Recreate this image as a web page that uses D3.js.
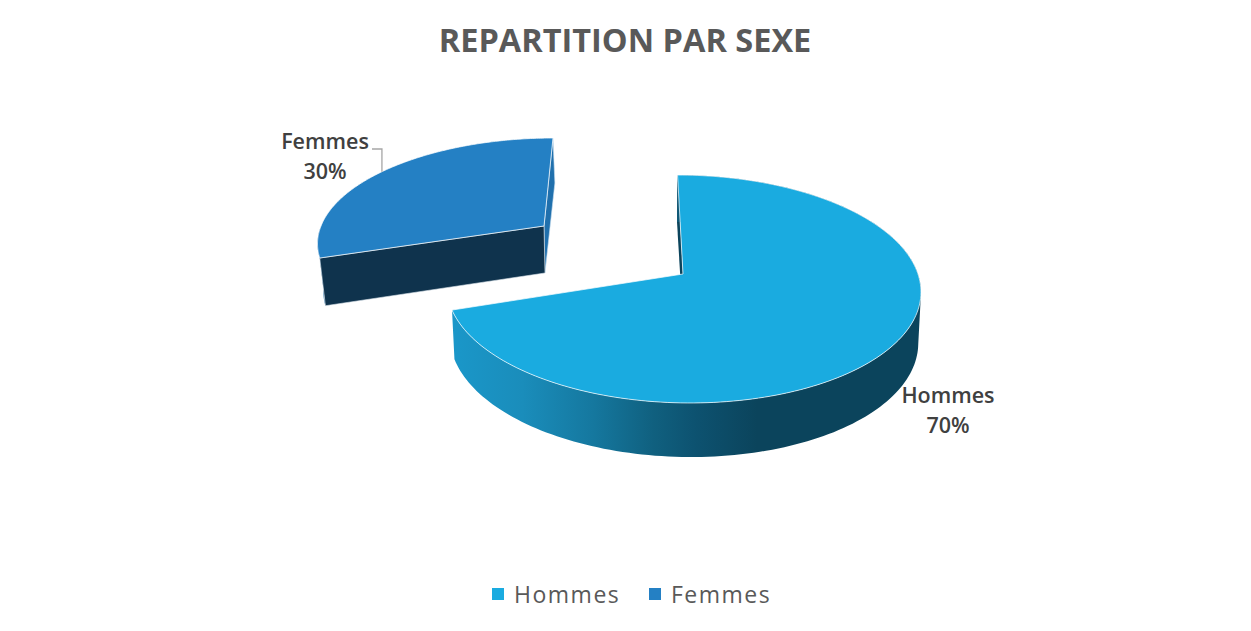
<!DOCTYPE html>
<html><head><meta charset="utf-8">
<script src="https://cdn.jsdelivr.net/npm/d3@7"></script>
<style>html,body{margin:0;padding:0;background:#fff;overflow:hidden}svg{display:block}text{font-family:"Open Sans","Noto Sans",sans-serif}</style>
</head><body><svg id="c" width="1251" height="631"></svg>
<script>
const categories = ["Hommes", "Femmes"];
const values = [70, 30];
const chartTitle = "REPARTITION PAR SEXE";
const colors = d3.scaleOrdinal(categories, ["#1AABE0", "#2480C4"]);

// projection of a unit disc seen in perspective: [apexX, apexY, c, a, k, shear]
const projections = {
  Hommes: {top: [683, 274, 235, 112, 0.1316, -0.055], bottom: [683, 322, 231.5, 114.9, 0.149, -0.06]},
  Femmes: {top: [544, 226, 223, 99.4, 0.13, 0.102], bottom: [545, 273, 218, 101.7, 0.13, 0.11]}
};
const project = (p, t, r = 1) => {
  const u = r * Math.sin(t), v = r * Math.cos(t), w = 1 + p[4] * v;
  const Y = p[3] * v / w;
  return [p[0] + p[2] * u / w + p[5] * Y, p[1] - Y];
};
const rim = (p, a0, a1) => d3.range(0, 181).map(i => project(p, a0 + (a1 - a0) * i / 180));
const poly = pts => d3.line()(pts) + "Z";
// outer wall as the union of its small facets, so the silhouette is a true sweep
const sweep = (p, q, a0, a1) => {
  const T = rim(p, a0, a1), B = rim(q, a0, a1);
  return d3.range(0, 180).map(i => {
    const f = [T[i], T[i + 1], B[i + 1], B[i]];
    return d3.polygonArea(f) > 0 ? poly(f) : poly(f.slice().reverse());
  }).join("");
};

const svg = d3.select("#c");
const defs = svg.append("defs");
const grad = defs.append("linearGradient").attr("id", "wall").attr("gradientUnits", "userSpaceOnUse")
  .attr("x1", 452).attr("x2", 921).attr("y1", 0).attr("y2", 0);
[[0, "#1A97C9"], [0.15, "#1A8DBB"], [0.3, "#15789F"], [0.43, "#10607F"], [0.52, "#0D5270"], [0.65, "#0B445C"], [1, "#0B445C"]]
  .forEach(s => grad.append("stop").attr("offset", s[0]).attr("stop-color", s[1]));

const arcs = d3.pie().sort(null).value(d => d)(values);

// Femmes slice
(() => {
  const d = arcs[1], P = projections.Femmes, a0 = d.startAngle, a1 = d.endAngle;
  const g = svg.append("g");
  const A = project(P.top, 0, 0), B = project(P.bottom, 0, 0);
  g.append("path").attr("d", poly([A, project(P.top, a1), project(P.bottom, a1), B]))
    .attr("fill", "#2070AD").attr("stroke", "#CFE3F2").attr("stroke-width", 0.6);
  g.append("path").attr("d", poly([...rim(P.top, a0, a1).slice(0, 30), ...rim(P.bottom, a0, a1).slice(0, 30).reverse()]))
    .attr("fill", "#1D6DA8");
  g.append("path").attr("d", poly([project(P.top, a0), A, B, project(P.bottom, a0)]))
    .attr("fill", "#0F334D").attr("stroke", "#DDE6EC").attr("stroke-width", 0.6);
  g.append("path").attr("d", poly([A, ...rim(P.top, a0, a1)]))
    .attr("fill", colors(categories[1])).attr("stroke", "#fff").attr("stroke-width", 0.7);
})();

// Hommes slice
(() => {
  const d = arcs[0], P = projections.Hommes, a0 = d.startAngle, a1 = d.endAngle;
  const g = svg.append("g");
  const A = project(P.top, 0, 0), B = project(P.bottom, 0, 0);
  g.append("path").attr("d", poly([A, project(P.top, a0), project(P.bottom, a0), B]))
    .attr("fill", "#0B445C");
  g.append("path").attr("d", sweep(P.top, P.bottom, a0, a1))
    .attr("fill", "url(#wall)");
  g.append("path").attr("d", poly([A, ...rim(P.top, a0, a1)]))
    .attr("fill", colors(categories[0])).attr("stroke", "#fff").attr("stroke-width", 0.7);
})();

// title
svg.append("text").attr("x", 625).attr("y", 52).attr("text-anchor", "middle")
  .attr("fill", "#595959").attr("font-size", 32.5).attr("font-weight", 700).text(chartTitle);

// data labels
const labelPos = {Hommes: [948, 403, 433], Femmes: [325, 149, 179]};
categories.forEach((c, i) => {
  const [x, y1, y2] = labelPos[c];
  const t = svg.append("text").attr("text-anchor", "middle").attr("fill", "#404040")
    .attr("font-size", 21.5).attr("font-weight", 600);
  t.append("tspan").attr("x", x).attr("y", y1).text(c);
  t.append("tspan").attr("x", x).attr("y", y2).text(values[i] + "%");
});

// leader line
const lead = project(projections.Femmes.top, arcs[1].startAngle + (arcs[1].endAngle - arcs[1].startAngle) / 2);
svg.append("path").attr("d", d3.line()([[372, 149], [lead[0], 149], [lead[0], lead[1]]]))
  .attr("fill", "none").attr("stroke", "#A6A6A6").attr("stroke-width", 1.3);

// legend
const legendX = {Hommes: 492, Femmes: 649};
categories.forEach(c => {
  svg.append("rect").attr("x", legendX[c]).attr("y", 588).attr("width", 12).attr("height", 12).attr("fill", colors(c));
  svg.append("text").attr("x", legendX[c] + 22).attr("y", 603).attr("fill", "#595959")
    .attr("font-size", 23).attr("letter-spacing", 1.5).text(c);
});
</script></body></html>
